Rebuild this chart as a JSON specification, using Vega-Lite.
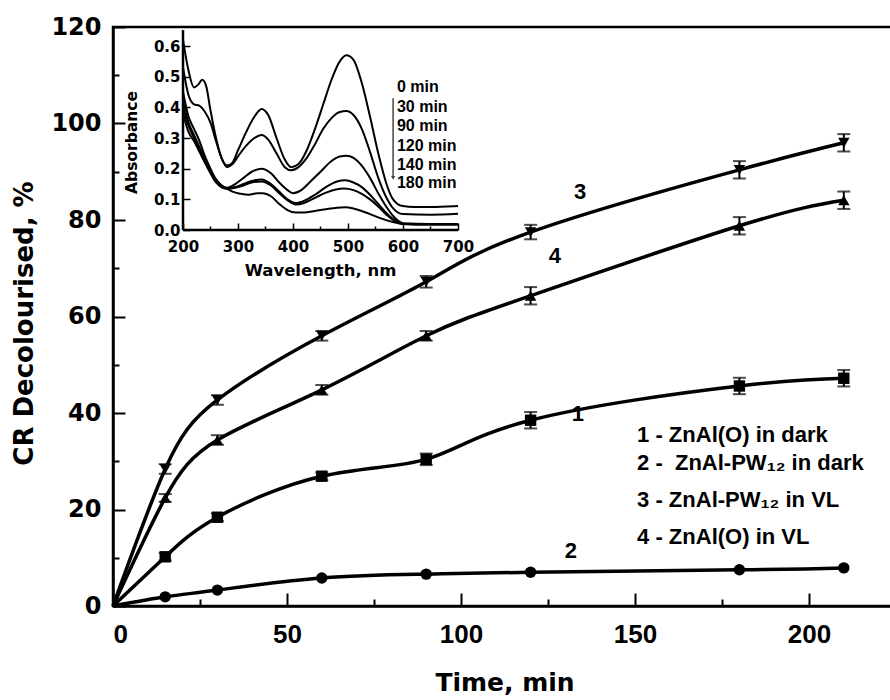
{
  "$schema": "https://vega.github.io/schema/vega-lite/v6.json",
  "width": 783,
  "height": 579,
  "autosize": {"type": "none"},
  "padding": {"left": 113, "top": 27, "right": 0, "bottom": 94},
  "background": "white",
  "config": {
    "view": {"stroke": "black", "strokeWidth": 2.5},
    "axis": {"grid": false, "labelColor": "black", "titleColor": "black", "tickColor": "black", "domainColor": "black"}
  },
  "datasets": {
    "kin": [
      {"s": "1", "t": 0, "v": 0, "lo": 0, "hi": 0},
      {"s": "1", "t": 15, "v": 10.2, "lo": 9.4, "hi": 11.0},
      {"s": "1", "t": 30, "v": 18.4, "lo": 17.6, "hi": 19.2},
      {"s": "1", "t": 60, "v": 26.9, "lo": 26.1, "hi": 27.7},
      {"s": "1", "t": 90, "v": 30.4, "lo": 29.2, "hi": 31.6},
      {"s": "1", "t": 120, "v": 38.5, "lo": 36.8, "hi": 40.2},
      {"s": "1", "t": 180, "v": 45.6, "lo": 43.9, "hi": 47.3},
      {"s": "1", "t": 210, "v": 47.2, "lo": 45.5, "hi": 48.9},
      {"s": "2", "t": 0, "v": 0, "lo": 0, "hi": 0},
      {"s": "2", "t": 15, "v": 1.9, "lo": 1.7, "hi": 2.1},
      {"s": "2", "t": 30, "v": 3.3, "lo": 3.1, "hi": 3.5},
      {"s": "2", "t": 60, "v": 5.8, "lo": 5.6, "hi": 6.0},
      {"s": "2", "t": 90, "v": 6.6, "lo": 6.4, "hi": 6.8},
      {"s": "2", "t": 120, "v": 7.0, "lo": 6.8, "hi": 7.2},
      {"s": "2", "t": 180, "v": 7.5, "lo": 7.3, "hi": 7.7},
      {"s": "2", "t": 210, "v": 7.9, "lo": 7.7, "hi": 8.1},
      {"s": "3", "t": 0, "v": 0, "lo": 0, "hi": 0},
      {"s": "3", "t": 15, "v": 28.4, "lo": 27.4, "hi": 29.4},
      {"s": "3", "t": 30, "v": 42.7, "lo": 41.7, "hi": 43.7},
      {"s": "3", "t": 60, "v": 56.0, "lo": 55.0, "hi": 57.0},
      {"s": "3", "t": 90, "v": 67.2, "lo": 66.0, "hi": 68.4},
      {"s": "3", "t": 120, "v": 77.5, "lo": 76.0, "hi": 79.0},
      {"s": "3", "t": 180, "v": 90.4, "lo": 88.6, "hi": 92.2},
      {"s": "3", "t": 210, "v": 96.0, "lo": 94.2, "hi": 97.8},
      {"s": "4", "t": 0, "v": 0, "lo": 0, "hi": 0},
      {"s": "4", "t": 15, "v": 22.4, "lo": 21.6, "hi": 23.2},
      {"s": "4", "t": 30, "v": 34.4, "lo": 33.4, "hi": 35.4},
      {"s": "4", "t": 60, "v": 44.8, "lo": 43.8, "hi": 45.8},
      {"s": "4", "t": 90, "v": 56.0, "lo": 55.0, "hi": 57.0},
      {"s": "4", "t": 120, "v": 64.3, "lo": 62.5, "hi": 66.1},
      {"s": "4", "t": 180, "v": 78.8, "lo": 77.0, "hi": 80.6},
      {"s": "4", "t": 210, "v": 84.1, "lo": 82.3, "hi": 85.9}
    ],
    "nums": [
      {"t": 134.2, "v": 85.8, "label": "3"},
      {"t": 127.0, "v": 72.5, "label": "4"},
      {"t": 133.6, "v": 39.8, "label": "1"},
      {"t": 131.6, "v": 11.4, "label": "2"}
    ],
    "leg": [
      {"t": 150.6, "v": 35.4, "label": "1 - ZnAl(O) in dark"},
      {"t": 150.6, "v": 29.6, "label": "2 - \u00a0ZnAl-PW\u2081\u2082 in dark"},
      {"t": 150.6, "v": 22.0, "label": "3 - ZnAl-PW\u2081\u2082 in VL"},
      {"t": 150.6, "v": 14.3, "label": "4 - ZnAl(O) in VL"}
    ],
    "frame": [
      {"w": 200, "w2": 200, "a": 0, "a2": 0.652},
      {"w": 200, "w2": 700, "a": 0, "a2": 0}
    ],
    "tlab": [
      {"w": 589, "a": 0.466, "label": "0 min"},
      {"w": 589, "a": 0.401, "label": "30 min"},
      {"w": 589, "a": 0.339, "label": "90 min"},
      {"w": 589, "a": 0.274, "label": "120 min"},
      {"w": 589, "a": 0.212, "label": "140 min"},
      {"w": 589, "a": 0.153, "label": "180 min"}
    ],
    "arrow": [
      {"w": 582, "a": 0.43, "a2": 0.17}
    ],
    "spec": [
      {"m": "0", "w": 200, "a": 0.62}, {"m": "0", "w": 210, "a": 0.52}, {"m": "0", "w": 220, "a": 0.465}, {"m": "0", "w": 228, "a": 0.475}, {"m": "0", "w": 235, "a": 0.49}, {"m": "0", "w": 242, "a": 0.47}, {"m": "0", "w": 250, "a": 0.39}, {"m": "0", "w": 260, "a": 0.3}, {"m": "0", "w": 270, "a": 0.235}, {"m": "0", "w": 280, "a": 0.21}, {"m": "0", "w": 290, "a": 0.22}, {"m": "0", "w": 300, "a": 0.26}, {"m": "0", "w": 315, "a": 0.32}, {"m": "0", "w": 330, "a": 0.37}, {"m": "0", "w": 343, "a": 0.395}, {"m": "0", "w": 355, "a": 0.375}, {"m": "0", "w": 370, "a": 0.3}, {"m": "0", "w": 385, "a": 0.23}, {"m": "0", "w": 397, "a": 0.205}, {"m": "0", "w": 410, "a": 0.215}, {"m": "0", "w": 425, "a": 0.26}, {"m": "0", "w": 440, "a": 0.33}, {"m": "0", "w": 455, "a": 0.41}, {"m": "0", "w": 470, "a": 0.49}, {"m": "0", "w": 485, "a": 0.55}, {"m": "0", "w": 497, "a": 0.57}, {"m": "0", "w": 510, "a": 0.555}, {"m": "0", "w": 525, "a": 0.48}, {"m": "0", "w": 540, "a": 0.37}, {"m": "0", "w": 555, "a": 0.25}, {"m": "0", "w": 570, "a": 0.15}, {"m": "0", "w": 580, "a": 0.105}, {"m": "0", "w": 590, "a": 0.085}, {"m": "0", "w": 600, "a": 0.078}, {"m": "0", "w": 620, "a": 0.075}, {"m": "0", "w": 650, "a": 0.075}, {"m": "0", "w": 680, "a": 0.077}, {"m": "0", "w": 700, "a": 0.078},
      {"m": "30", "w": 200, "a": 0.53}, {"m": "30", "w": 210, "a": 0.44}, {"m": "30", "w": 220, "a": 0.41}, {"m": "30", "w": 230, "a": 0.405}, {"m": "30", "w": 240, "a": 0.385}, {"m": "30", "w": 250, "a": 0.35}, {"m": "30", "w": 260, "a": 0.29}, {"m": "30", "w": 270, "a": 0.235}, {"m": "30", "w": 280, "a": 0.205}, {"m": "30", "w": 290, "a": 0.215}, {"m": "30", "w": 300, "a": 0.24}, {"m": "30", "w": 315, "a": 0.275}, {"m": "30", "w": 330, "a": 0.3}, {"m": "30", "w": 343, "a": 0.31}, {"m": "30", "w": 355, "a": 0.295}, {"m": "30", "w": 370, "a": 0.25}, {"m": "30", "w": 385, "a": 0.205}, {"m": "30", "w": 397, "a": 0.195}, {"m": "30", "w": 410, "a": 0.205}, {"m": "30", "w": 425, "a": 0.235}, {"m": "30", "w": 440, "a": 0.28}, {"m": "30", "w": 455, "a": 0.33}, {"m": "30", "w": 470, "a": 0.365}, {"m": "30", "w": 485, "a": 0.385}, {"m": "30", "w": 497, "a": 0.388}, {"m": "30", "w": 510, "a": 0.375}, {"m": "30", "w": 525, "a": 0.33}, {"m": "30", "w": 540, "a": 0.255}, {"m": "30", "w": 555, "a": 0.17}, {"m": "30", "w": 570, "a": 0.105}, {"m": "30", "w": 580, "a": 0.075}, {"m": "30", "w": 590, "a": 0.058}, {"m": "30", "w": 600, "a": 0.052}, {"m": "30", "w": 650, "a": 0.05}, {"m": "30", "w": 700, "a": 0.053},
      {"m": "90", "w": 200, "a": 0.45}, {"m": "90", "w": 210, "a": 0.37}, {"m": "90", "w": 220, "a": 0.33}, {"m": "90", "w": 230, "a": 0.29}, {"m": "90", "w": 240, "a": 0.24}, {"m": "90", "w": 250, "a": 0.2}, {"m": "90", "w": 260, "a": 0.165}, {"m": "90", "w": 270, "a": 0.145}, {"m": "90", "w": 280, "a": 0.138}, {"m": "90", "w": 295, "a": 0.15}, {"m": "90", "w": 310, "a": 0.17}, {"m": "90", "w": 325, "a": 0.19}, {"m": "90", "w": 343, "a": 0.2}, {"m": "90", "w": 360, "a": 0.185}, {"m": "90", "w": 375, "a": 0.155}, {"m": "90", "w": 390, "a": 0.13}, {"m": "90", "w": 400, "a": 0.12}, {"m": "90", "w": 415, "a": 0.13}, {"m": "90", "w": 430, "a": 0.155}, {"m": "90", "w": 450, "a": 0.19}, {"m": "90", "w": 470, "a": 0.225}, {"m": "90", "w": 485, "a": 0.24}, {"m": "90", "w": 497, "a": 0.242}, {"m": "90", "w": 510, "a": 0.235}, {"m": "90", "w": 525, "a": 0.21}, {"m": "90", "w": 540, "a": 0.17}, {"m": "90", "w": 555, "a": 0.12}, {"m": "90", "w": 570, "a": 0.075}, {"m": "90", "w": 585, "a": 0.04}, {"m": "90", "w": 600, "a": 0.022}, {"m": "90", "w": 650, "a": 0.02}, {"m": "90", "w": 700, "a": 0.02},
      {"m": "120", "w": 200, "a": 0.42}, {"m": "120", "w": 210, "a": 0.35}, {"m": "120", "w": 220, "a": 0.31}, {"m": "120", "w": 230, "a": 0.27}, {"m": "120", "w": 240, "a": 0.23}, {"m": "120", "w": 250, "a": 0.19}, {"m": "120", "w": 260, "a": 0.16}, {"m": "120", "w": 270, "a": 0.14}, {"m": "120", "w": 280, "a": 0.135}, {"m": "120", "w": 295, "a": 0.14}, {"m": "120", "w": 310, "a": 0.15}, {"m": "120", "w": 325, "a": 0.16}, {"m": "120", "w": 343, "a": 0.165}, {"m": "120", "w": 360, "a": 0.15}, {"m": "120", "w": 375, "a": 0.125}, {"m": "120", "w": 390, "a": 0.1}, {"m": "120", "w": 405, "a": 0.088}, {"m": "120", "w": 420, "a": 0.095}, {"m": "120", "w": 440, "a": 0.115}, {"m": "120", "w": 460, "a": 0.14}, {"m": "120", "w": 480, "a": 0.158}, {"m": "120", "w": 495, "a": 0.162}, {"m": "120", "w": 510, "a": 0.155}, {"m": "120", "w": 525, "a": 0.14}, {"m": "120", "w": 540, "a": 0.115}, {"m": "120", "w": 555, "a": 0.085}, {"m": "120", "w": 570, "a": 0.055}, {"m": "120", "w": 585, "a": 0.032}, {"m": "120", "w": 600, "a": 0.02}, {"m": "120", "w": 650, "a": 0.018}, {"m": "120", "w": 700, "a": 0.018},
      {"m": "140", "w": 200, "a": 0.40}, {"m": "140", "w": 210, "a": 0.34}, {"m": "140", "w": 220, "a": 0.3}, {"m": "140", "w": 230, "a": 0.26}, {"m": "140", "w": 240, "a": 0.22}, {"m": "140", "w": 250, "a": 0.185}, {"m": "140", "w": 260, "a": 0.155}, {"m": "140", "w": 270, "a": 0.14}, {"m": "140", "w": 280, "a": 0.135}, {"m": "140", "w": 295, "a": 0.138}, {"m": "140", "w": 310, "a": 0.145}, {"m": "140", "w": 325, "a": 0.155}, {"m": "140", "w": 343, "a": 0.158}, {"m": "140", "w": 360, "a": 0.145}, {"m": "140", "w": 375, "a": 0.12}, {"m": "140", "w": 390, "a": 0.097}, {"m": "140", "w": 405, "a": 0.083}, {"m": "140", "w": 420, "a": 0.088}, {"m": "140", "w": 440, "a": 0.105}, {"m": "140", "w": 460, "a": 0.122}, {"m": "140", "w": 480, "a": 0.133}, {"m": "140", "w": 492, "a": 0.135}, {"m": "140", "w": 510, "a": 0.13}, {"m": "140", "w": 525, "a": 0.118}, {"m": "140", "w": 540, "a": 0.1}, {"m": "140", "w": 555, "a": 0.077}, {"m": "140", "w": 570, "a": 0.05}, {"m": "140", "w": 585, "a": 0.03}, {"m": "140", "w": 600, "a": 0.02}, {"m": "140", "w": 650, "a": 0.018}, {"m": "140", "w": 700, "a": 0.018},
      {"m": "180", "w": 200, "a": 0.38}, {"m": "180", "w": 210, "a": 0.32}, {"m": "180", "w": 220, "a": 0.29}, {"m": "180", "w": 230, "a": 0.255}, {"m": "180", "w": 240, "a": 0.22}, {"m": "180", "w": 250, "a": 0.19}, {"m": "180", "w": 260, "a": 0.165}, {"m": "180", "w": 270, "a": 0.145}, {"m": "180", "w": 280, "a": 0.135}, {"m": "180", "w": 290, "a": 0.125}, {"m": "180", "w": 305, "a": 0.118}, {"m": "180", "w": 320, "a": 0.115}, {"m": "180", "w": 335, "a": 0.12}, {"m": "180", "w": 345, "a": 0.12}, {"m": "180", "w": 360, "a": 0.11}, {"m": "180", "w": 375, "a": 0.085}, {"m": "180", "w": 390, "a": 0.065}, {"m": "180", "w": 405, "a": 0.057}, {"m": "180", "w": 420, "a": 0.057}, {"m": "180", "w": 440, "a": 0.062}, {"m": "180", "w": 460, "a": 0.068}, {"m": "180", "w": 480, "a": 0.073}, {"m": "180", "w": 495, "a": 0.074}, {"m": "180", "w": 510, "a": 0.07}, {"m": "180", "w": 525, "a": 0.062}, {"m": "180", "w": 540, "a": 0.052}, {"m": "180", "w": 560, "a": 0.038}, {"m": "180", "w": 580, "a": 0.027}, {"m": "180", "w": 600, "a": 0.02}, {"m": "180", "w": 650, "a": 0.02}, {"m": "180", "w": 700, "a": 0.02}
    ]
  },
  "layer": [
    {
      "layer": [
        {
          "data": {"name": "kin"},
          "mark": {"type": "line", "interpolate": "natural", "color": "black", "strokeWidth": 3.5},
          "encoding": {
            "x": {"field": "t", "type": "quantitative", "scale": {"domain": [0, 225], "nice": false},
              "axis": {"title": "Time, min", "values": [0, 25, 50, 75, 100, 125, 150, 175, 200, 225],
                "labelExpr": "datum.value % 50 === 0 ? datum.label : ''",
                "tickSize": {"condition": {"test": "datum.value % 50 === 0", "value": -13}, "value": -7},
                "tickWidth": 2, "domainWidth": 2.5,
                "labelFont": "Liberation Sans", "labelFontWeight": "bold", "labelFontSize": 26, "labelPadding": 28,
                "titleFont": "DejaVu Sans", "titleFontWeight": "bold", "titleFontSize": 25, "titleY": 64}},
            "y": {"field": "v", "type": "quantitative", "scale": {"domain": [0, 120], "nice": false},
              "axis": {"title": "CR Decolourised, %", "values": [0, 10, 20, 30, 40, 50, 60, 70, 80, 90, 100, 110, 120],
                "labelExpr": "datum.value % 20 === 0 ? datum.label : ''",
                "tickSize": {"condition": {"test": "datum.value % 20 === 0", "value": -12}, "value": -6},
                "tickWidth": 2, "domainWidth": 2.5,
                "labelFont": "DejaVu Sans", "labelFontWeight": "bold", "labelFontSize": 24, "labelPadding": 24,
                "titleFont": "DejaVu Sans", "titleFontWeight": "bold", "titleFontSize": 26, "titleX": -76, "titleY": 296}},
            "detail": {"field": "s"}
          }
        },
        {
          "data": {"name": "kin"},
          "transform": [{"filter": "datum.t > 0"}],
          "mark": {"type": "rule", "color": "black", "strokeWidth": 2},
          "encoding": {
            "x": {"field": "t", "type": "quantitative"},
            "y": {"field": "lo", "type": "quantitative"},
            "y2": {"field": "hi"}
          }
        },
        {
          "data": {"name": "kin"},
          "transform": [{"filter": "datum.t > 0 && datum.s !== '2'"}],
          "mark": {"type": "tick", "orient": "horizontal", "color": "black", "size": 13, "thickness": 2},
          "encoding": {
            "x": {"field": "t", "type": "quantitative"},
            "y": {"field": "lo", "type": "quantitative"}
          }
        },
        {
          "data": {"name": "kin"},
          "transform": [{"filter": "datum.t > 0 && datum.s !== '2'"}],
          "mark": {"type": "tick", "orient": "horizontal", "color": "black", "size": 13, "thickness": 2},
          "encoding": {
            "x": {"field": "t", "type": "quantitative"},
            "y": {"field": "hi", "type": "quantitative"}
          }
        },
        {
          "data": {"name": "kin"},
          "transform": [{"filter": "datum.t > 0"}],
          "mark": {"type": "point", "filled": true, "color": "black", "opacity": 1, "size": 130},
          "encoding": {
            "x": {"field": "t", "type": "quantitative"},
            "y": {"field": "v", "type": "quantitative"},
            "shape": {"field": "s", "type": "nominal", "legend": null,
              "scale": {"domain": ["1", "2", "3", "4"], "range": ["square", "circle", "triangle-down", "triangle-up"]}}
          }
        },
        {
          "data": {"name": "nums"},
          "mark": {"type": "text", "font": "Liberation Sans", "fontWeight": "bold", "fontSize": 22, "color": "black", "align": "center", "baseline": "middle"},
          "encoding": {
            "x": {"field": "t", "type": "quantitative"},
            "y": {"field": "v", "type": "quantitative"},
            "text": {"field": "label"}
          }
        },
        {
          "data": {"name": "leg"},
          "mark": {"type": "text", "font": "Liberation Sans", "fontWeight": "bold", "fontSize": 22, "color": "black", "align": "left", "baseline": "middle"},
          "encoding": {
            "x": {"field": "t", "type": "quantitative"},
            "y": {"field": "v", "type": "quantitative"},
            "text": {"field": "label"}
          }
        }
      ]
    },
    {
      "layer": [
        {
          "data": {"name": "frame"},
          "mark": {"type": "rule", "color": "black", "strokeWidth": 2.5},
          "encoding": {
            "x": {"field": "w", "type": "quantitative", "scale": {"domain": [72.73, 1496.36], "nice": false, "zero": false},
              "axis": {"orient": "bottom", "offset": -376, "title": "Wavelength, nm", "domain": false,
                "values": [200, 250, 300, 350, 400, 450, 500, 550, 600, 650, 700],
                "labelExpr": "datum.value % 100 === 0 ? datum.label : ''",
                "tickSize": {"condition": {"test": "datum.value % 100 === 0", "value": -7}, "value": -4},
                "tickWidth": 1.5, "labelPadding": 16,
                "labelFont": "DejaVu Sans", "labelFontWeight": "bold", "labelFontSize": 15,
                "titleFont": "DejaVu Sans", "titleFontWeight": "bold", "titleFontSize": 16.5, "titleX": 207, "titleY": 32}},
            "x2": {"field": "w2"},
            "y": {"field": "a", "type": "quantitative", "scale": {"domain": [-1.226, 0.662], "nice": false, "zero": false},
              "axis": {"orient": "left", "offset": -70, "title": "Absorbance", "domain": false,
                "values": [0, 0.1, 0.2, 0.3, 0.4, 0.5, 0.6], "format": ".1f",
                "tickSize": -7, "tickWidth": 1.5, "labelPadding": 10,
                "labelFont": "DejaVu Sans", "labelFontWeight": "bold", "labelFontSize": 15,
                "titleFont": "DejaVu Sans", "titleFontWeight": "bold", "titleFontSize": 15.5, "titleX": -44, "titleY": 115}},
            "y2": {"field": "a2"}
          }
        },
        {
          "data": {"name": "spec"},
          "mark": {"type": "line", "interpolate": "monotone", "color": "black", "strokeWidth": 2},
          "encoding": {
            "x": {"field": "w", "type": "quantitative"},
            "y": {"field": "a", "type": "quantitative"},
            "detail": {"field": "m"}
          }
        },
        {
          "data": {"name": "tlab"},
          "mark": {"type": "text", "font": "Liberation Sans", "fontWeight": "bold", "fontSize": 16, "color": "black", "align": "left", "baseline": "middle"},
          "encoding": {
            "x": {"field": "w", "type": "quantitative"},
            "y": {"field": "a", "type": "quantitative"},
            "text": {"field": "label"}
          }
        },
        {
          "data": {"name": "arrow"},
          "mark": {"type": "rule", "color": "#444444", "strokeWidth": 1.5},
          "encoding": {
            "x": {"field": "w", "type": "quantitative"},
            "y": {"field": "a", "type": "quantitative"},
            "y2": {"field": "a2"}
          }
        },
        {
          "data": {"name": "arrow"},
          "mark": {"type": "point", "shape": "triangle-down", "filled": true, "color": "#444444", "opacity": 1, "size": 18},
          "encoding": {
            "x": {"field": "w", "type": "quantitative"},
            "y": {"field": "a2", "type": "quantitative"}
          }
        }
      ]
    }
  ],
  "resolve": {"scale": {"x": "independent", "y": "independent"}}
}
